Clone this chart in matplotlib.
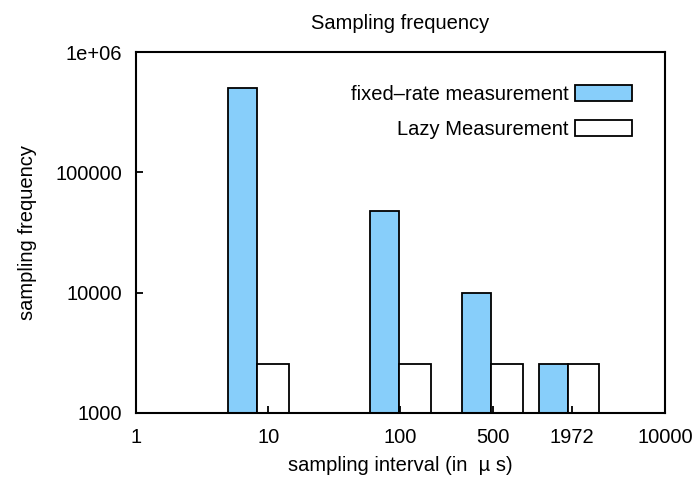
import matplotlib
matplotlib.use('Agg')
import matplotlib.pyplot as plt
from matplotlib.ticker import FixedLocator, NullLocator

# data
intervals = [10, 100, 500, 1972]
fixed_rate = [500000, 48000, 10000, 2550]
lazy = [2550, 2550, 2550, 2550]
xticks = [1, 10, 100, 500, 1972, 10000]
xticklabels = ['1', '10', '100', '500', '1972', '10000']
yticks = [1000, 10000, 100000, 1000000]
yticklabels = ['1000', '10000', '100000', '1e+06']

# bar layout in decades (log space)
shift = [-0.083, -0.012, -0.012, -0.03]
w_fixed = 0.22
w_lazy = 0.24

plt.rcParams['font.family'] = ['Liberation Sans', 'DejaVu Sans']
fs = 14.5

fig = plt.figure(figsize=(6.94, 4.79), dpi=100)
ax = fig.add_axes([0.196, 0.138, 0.762, 0.753])
ax.set_xscale('log')
ax.set_yscale('log')

for i, x in enumerate(intervals):
    mid = x * 10 ** shift[i]
    left = mid * 10 ** (-w_fixed)
    right = mid * 10 ** w_lazy
    ax.bar(left, fixed_rate[i], width=mid - left, align='edge',
           color='#87cefa', edgecolor='black', linewidth=1.3,
           label='fixed\u2013rate measurement' if i == 0 else None)
    ax.bar(mid, lazy[i], width=right - mid, align='edge',
           color='white', edgecolor='black', linewidth=1.3,
           label='Lazy Measurement' if i == 0 else None)

ax.set_xlim(1, 10000)
ax.set_ylim(1000, 1000000)
ax.xaxis.set_major_locator(FixedLocator(xticks))
ax.set_xticklabels(xticklabels)
ax.xaxis.set_minor_locator(NullLocator())
ax.yaxis.set_major_locator(FixedLocator(yticks))
ax.set_yticklabels(yticklabels)
ax.yaxis.set_minor_locator(NullLocator())
ax.tick_params(direction='in', length=5, width=1.3, labelsize=fs)
ax.tick_params(axis='x', pad=11)
ax.tick_params(axis='y', pad=10)

for s in ax.spines.values():
    s.set_linewidth(1.5)

ax.set_title('Sampling frequency', fontsize=fs, pad=17)
ax.set_xlabel('sampling interval (in  \u00b5 s)', fontsize=fs, labelpad=6)
ax.set_ylabel('sampling frequency', fontsize=fs, labelpad=13)

ax.legend(loc='upper right', bbox_to_anchor=(0.972, 0.96), frameon=False,
          markerfirst=False, handlelength=2.85, handleheight=0.87,
          labelspacing=0.8, handletextpad=0.3, fontsize=fs)

fig.savefig('out.png', dpi=100)
